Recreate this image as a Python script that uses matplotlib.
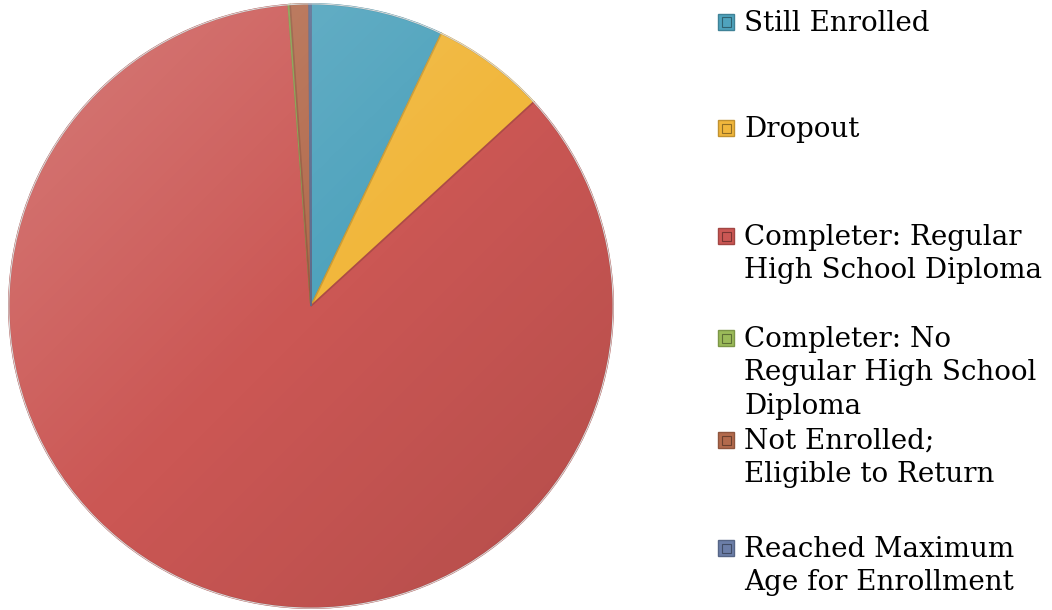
import matplotlib.pyplot as plt
import numpy as np
from matplotlib.patches import Circle, Rectangle
from matplotlib.colors import to_rgb

# exit status shares, clockwise from 12 o'clock
labels = ["Still Enrolled",
          "Dropout",
          "Completer: Regular\nHigh School Diploma",
          "Completer: No\nRegular High School\nDiploma",
          "Not Enrolled;\nEligible to Return",
          "Reached Maximum\nAge for Enrollment"]
values = [7.1, 6.1, 85.6, 0.1, 1.0, 0.1]
colors = ["#4FA3BD", "#F1B73C", "#CB5754", "#9BBB59", "#B36A4C", "#6C7EA8"]


def darker(c, f=0.75):
    r, g, b = to_rgb(c)
    return (r * f, g * f, b * f)


fig = plt.figure(figsize=(10.52, 6.10), dpi=100)
fig.patch.set_facecolor("white")

# pie axes, centre ~ (311, 306) px, radius ~ 302 px
ax = fig.add_axes([(311 - 303) / 1052, (610 - 306 - 303) / 610, 606 / 1052, 606 / 610])
wedges, _ = ax.pie(values, colors=colors, startangle=90, counterclock=False,
                   radius=1.0)
for w, c in zip(wedges, colors):
    w.set_edgecolor(darker(c, 0.85))
    w.set_linewidth(1.2)
ax.set_aspect("equal")
ax.axis("off")

# soft lighting: light top-left, darker bottom-right
n = 300
xx, yy = np.meshgrid(np.linspace(-1, 1, n), np.linspace(1, -1, n))
t = (-xx + yy) / 2.0  # +1 at top-left, -1 at bottom-right
shade = np.zeros((n, n, 4))
light = np.clip(t, 0, 1)
dark = np.clip(-t, 0, 1)
shade[..., :3] = np.where(light[..., None] > 0, 1.0, 0.0)
shade[..., 3] = light * 0.22 + dark * 0.12
im = ax.imshow(shade, extent=(-1, 1, -1, 1), zorder=3, interpolation="bilinear")
clip = Circle((0, 0), 1.0, transform=ax.transData)
im.set_clip_path(clip)
ax.add_patch(Circle((0, 0), 1.0, fill=False, edgecolor="#D9D9D9", lw=0.8, zorder=4))
ax.set_xlim(-1.003, 1.003)
ax.set_ylim(-1.003, 1.003)

# legend drawn by hand to keep the uneven spacing
tops = [22, 128, 236, 338, 440, 548]  # first-line centres, px from top
for lab, c, yc in zip(labels, colors, tops):
    fy = 1 - yc / 610
    fig.patches.append(Rectangle((718 / 1052, fy - 8 / 610), 16 / 1052, 16 / 610,
                                 transform=fig.transFigure, facecolor=c,
                                 edgecolor=darker(c, 0.8), lw=1.0))
    fig.patches.append(Rectangle((721.5 / 1052, fy - 4.5 / 610), 9 / 1052, 9 / 610,
                                 transform=fig.transFigure, facecolor="none",
                                 edgecolor=darker(c, 0.6), lw=0.8))
    fig.text(744 / 1052, fy + 12 / 610, lab, ha="left", va="top",
             fontsize=20, family="DejaVu Serif", color="black", linespacing=1.3)

fig.savefig("out.png", dpi=100, facecolor="white")
